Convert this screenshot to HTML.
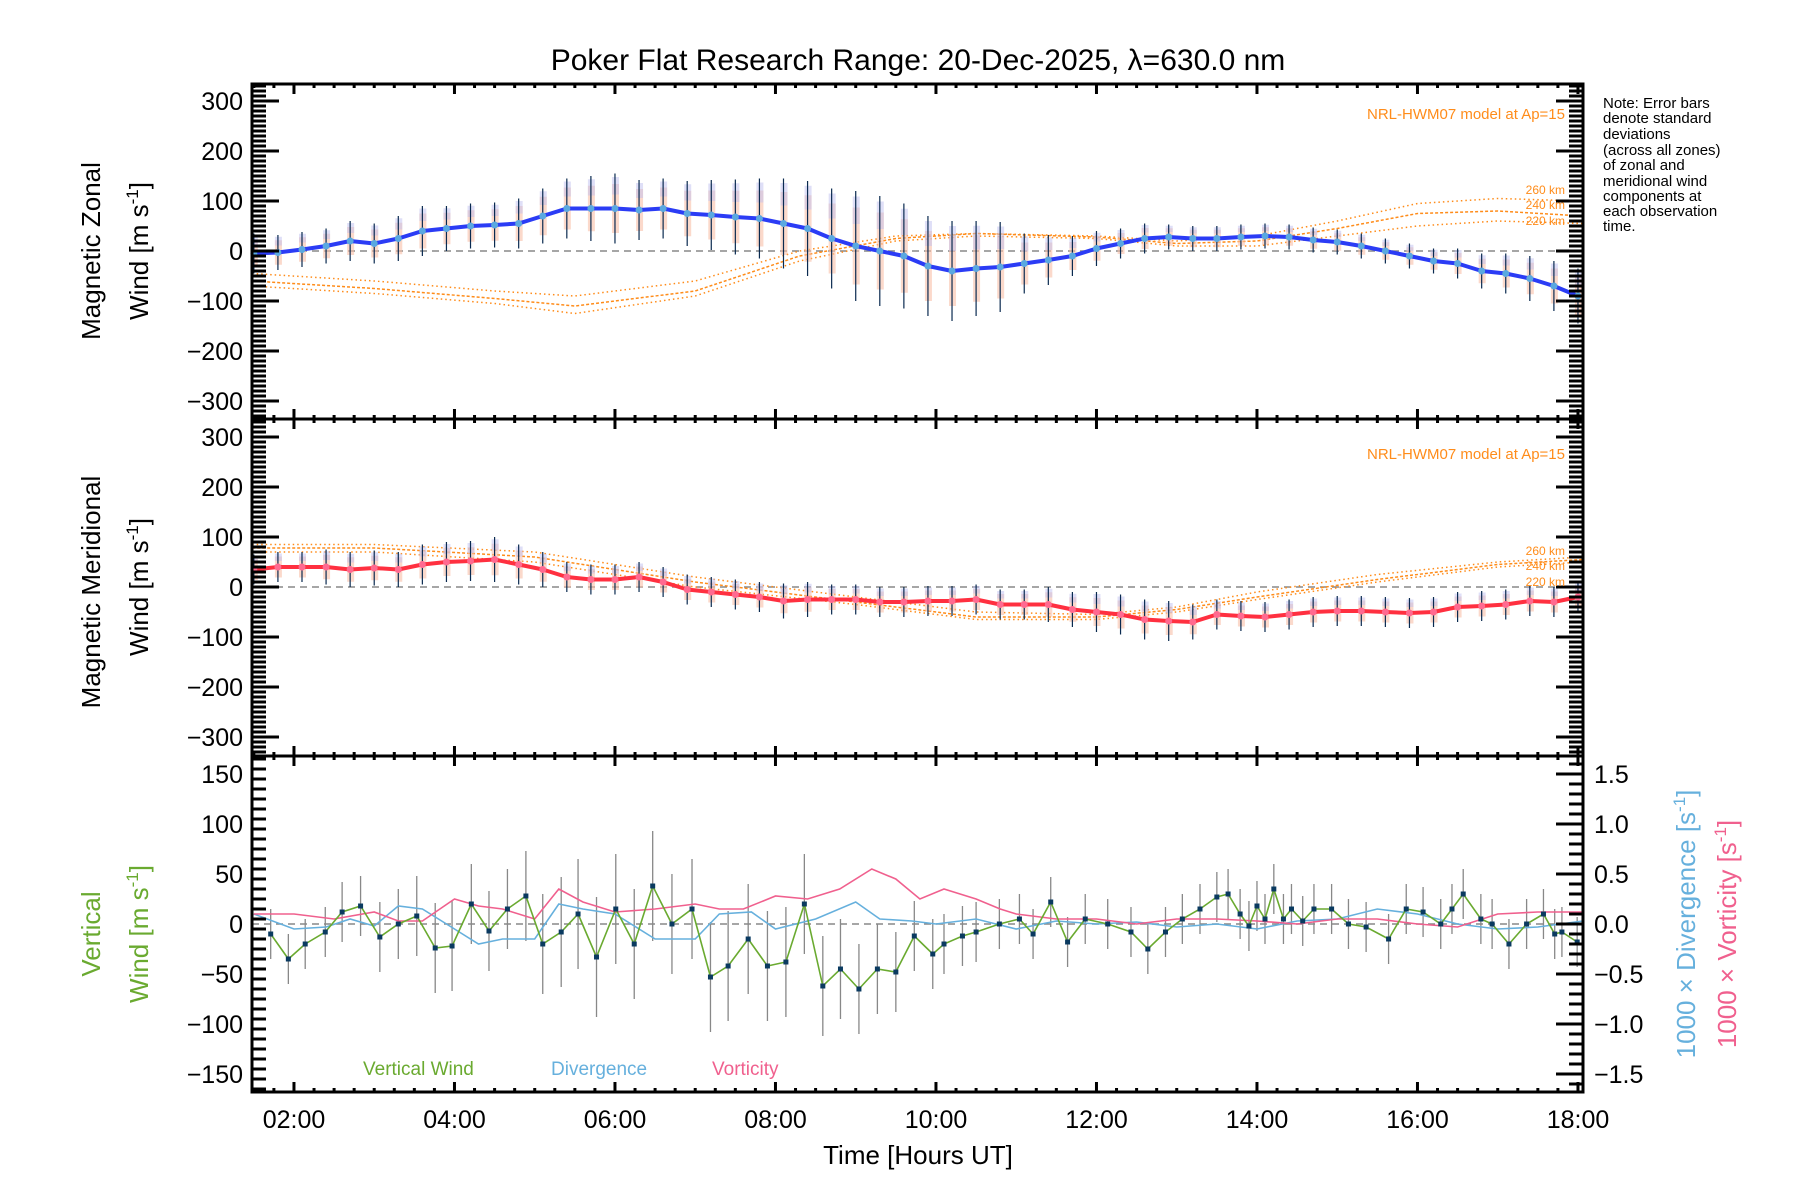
<!DOCTYPE html>
<html><head><meta charset="utf-8"><title>Poker Flat winds</title>
<style>
html,body{margin:0;padding:0;background:#fff;}
svg{display:block;font-family:"Liberation Sans",sans-serif;}
</style></head>
<body>
<svg id="chart" width="1800" height="1200" viewBox="0 0 1800 1200" xmlns="http://www.w3.org/2000/svg">
<rect x="0" y="0" width="1800" height="1200" fill="#fff"/>
<text x="918" y="70" font-size="30" text-anchor="middle" fill="#000">Poker Flat Research Range: 20-Dec-2025, λ=630.0 nm</text>
<g id="marks"></g>
<g id="axes"></g>
<text font-size="15" fill="#000">
<tspan x="1603" y="108">Note: Error bars</tspan><tspan x="1603" y="123">denote standard</tspan><tspan x="1603" y="139">deviations</tspan><tspan x="1603" y="155">(across all zones)</tspan><tspan x="1603" y="170">of zonal and</tspan><tspan x="1603" y="186">meridional wind</tspan><tspan x="1603" y="201">components at</tspan><tspan x="1603" y="216">each observation</tspan><tspan x="1603" y="231">time.</tspan></text>
<text font-size="26" fill="#000" text-anchor="middle" transform="translate(100,251) rotate(-90)">Magnetic Zonal</text>
<text font-size="26" fill="#000" text-anchor="middle" transform="translate(148,251) rotate(-90)">Wind [m s<tspan dy="-10" font-size="17">-1</tspan><tspan dy="10">]</tspan></text>
<text font-size="26" fill="#000" text-anchor="middle" transform="translate(100,592) rotate(-90)">Magnetic Meridional</text>
<text font-size="26" fill="#000" text-anchor="middle" transform="translate(148,587) rotate(-90)">Wind [m s<tspan dy="-10" font-size="17">-1</tspan><tspan dy="10">]</tspan></text>
<text font-size="26" fill="#6aaa30" text-anchor="middle" transform="translate(100,934) rotate(-90)">Vertical</text>
<text font-size="26" fill="#6aaa30" text-anchor="middle" transform="translate(148,934) rotate(-90)">Wind [m s<tspan dy="-10" font-size="17">-1</tspan><tspan dy="10">]</tspan></text>
<text font-size="26" fill="#66b0dd" text-anchor="middle" transform="translate(1695,924) rotate(-90)">1000 × Divergence [s<tspan dy="-10" font-size="17">-1</tspan><tspan dy="10">]</tspan></text>
<text font-size="26" fill="#f0608e" text-anchor="middle" transform="translate(1736,934) rotate(-90)">1000 × Vorticity [s<tspan dy="-10" font-size="17">-1</tspan><tspan dy="10">]</tspan></text>
<text x="918" y="1164" font-size="26" text-anchor="middle" fill="#000">Time [Hours UT]</text>
<text x="363" y="1075" font-size="19" fill="#6aaa30">Vertical Wind</text>
<text x="551" y="1075" font-size="19" fill="#66b0dd">Divergence</text>
<text x="712" y="1075" font-size="19" fill="#f0608e">Vorticity</text>
<text x="1565" y="119" font-size="15" text-anchor="end" fill="#ff8c1a">NRL-HWM07 model at Ap=15</text>
<text x="1565" y="459" font-size="15" text-anchor="end" fill="#ff8c1a">NRL-HWM07 model at Ap=15</text>
<g font-size="12" fill="#ff8c1a" text-anchor="end">
<text x="1565" y="194">260 km</text>
<text x="1565" y="209">240 km</text>
<text x="1565" y="225">220 km</text>
<text x="1565" y="555">260 km</text>
<text x="1565" y="570">240 km</text>
<text x="1565" y="586">220 km</text>
</g>
</svg>
<script>
// ---- data ----
const obsTimes = [1.5,1.8,2.1,2.4,2.7,3.0,3.3,3.6,3.9,4.2,4.5,4.8,5.1,5.4,5.7,6.0,6.3,6.6,6.9,7.2,7.5,7.8,8.1,8.4,8.7,9.0,9.3,9.6,9.9,10.2,10.5,10.8,11.1,11.4,11.7,12.0,12.3,12.6,12.9,13.2,13.5,13.8,14.1,14.4,14.7,15.0,15.3,15.6,15.9,16.2,16.5,16.8,17.1,17.4,17.7,18.0];
const zonalWind = [-5,-3,3,10,20,15,25,40,45,50,52,55,70,85,85,85,82,85,75,72,68,65,55,45,25,10,0,-10,-30,-40,-35,-32,-25,-18,-10,5,15,25,28,25,25,28,30,28,22,18,10,0,-10,-20,-25,-40,-45,-55,-70,-90];
const zonalErr = [40,35,35,35,40,40,45,50,45,45,45,50,55,60,65,70,60,60,65,70,75,80,90,95,100,110,110,105,100,100,95,90,60,50,40,35,30,30,25,25,25,25,25,25,25,25,25,25,25,25,30,35,40,45,50,55];
const meridWind = [35,40,40,40,35,38,35,45,50,52,55,45,35,20,15,15,20,10,-5,-10,-15,-20,-28,-25,-25,-25,-30,-30,-28,-28,-25,-35,-35,-35,-45,-50,-55,-65,-68,-70,-55,-58,-60,-55,-50,-48,-48,-50,-52,-50,-40,-38,-35,-28,-30,-20];
const meridErr = [30,30,30,35,35,35,35,40,40,40,45,40,35,30,30,30,30,30,30,30,30,30,35,35,30,30,30,30,30,30,30,30,30,35,35,40,40,40,40,35,30,30,30,30,30,30,30,30,30,30,30,30,30,30,30,30];

const modelTimes = [1.48,3,4.5,5.5,7,8.3,9.5,10.5,12,13,14,15,16,17,18.06];
const zonal260 = [-45,-60,-80,-90,-60,0,30,35,30,20,30,60,95,105,100];
const zonal240 = [-60,-75,-95,-110,-80,-10,25,35,28,15,20,45,75,80,70];
const zonal220 = [-70,-85,-105,-125,-90,-20,20,30,25,10,10,30,50,60,55];
const modelTimesM = [1.48,3,5,7,9,10.5,12,13,14,15.5,17,18.06];
const merid260 = [85,85,70,20,-20,-50,-55,-40,-10,25,50,60];
const merid240 = [78,78,60,10,-30,-60,-60,-45,-20,15,45,55];
const merid220 = [70,70,50,0,-35,-65,-65,-50,-25,10,40,50];

const vertTimes = [1.71,1.93,2.14,2.39,2.6,2.83,3.07,3.3,3.53,3.76,3.97,4.21,4.43,4.66,4.89,5.1,5.33,5.54,5.77,6.01,6.24,6.47,6.71,6.96,7.19,7.41,7.66,7.9,8.13,8.36,8.59,8.81,9.04,9.27,9.5,9.73,9.96,10.1,10.33,10.5,10.79,11.04,11.21,11.43,11.64,11.86,12.14,12.43,12.64,12.86,13.07,13.29,13.5,13.64,13.79,13.9,14.0,14.1,14.21,14.33,14.43,14.57,14.71,14.93,15.14,15.36,15.64,15.86,16.07,16.29,16.43,16.57,16.79,16.93,17.14,17.36,17.57,17.71,17.8,17.99];
const vertWind = [-10,-35,-20,-8,12,18,-13,0,8,-24,-22,20,-7,15,28,-20,-8,10,-33,15,-20,38,0,15,-53,-42,-15,-42,-38,20,-62,-45,-65,-45,-48,-12,-30,-20,-12,-8,0,5,-10,22,-18,5,0,-8,-25,-8,5,15,27,30,10,-2,18,5,35,5,15,3,15,15,0,-3,-15,15,12,0,15,30,5,0,-20,0,10,-10,-8,-18];
const vertErr = [25,25,25,25,30,30,35,35,40,45,45,40,40,40,45,50,55,55,60,55,55,55,50,50,55,55,55,55,55,50,50,50,45,45,40,35,35,30,30,30,25,25,25,25,25,25,25,25,25,25,25,25,25,25,25,25,25,25,25,25,25,25,25,25,25,25,25,25,25,25,25,25,25,25,25,25,25,25,25,25];
const divTimes = [1.5,2.0,2.4,2.7,3.0,3.3,3.6,4.0,4.3,4.6,5.0,5.3,5.6,6.0,6.5,7.0,7.3,7.7,8.0,8.5,9.0,9.3,9.7,10.0,10.5,11.0,11.5,12.0,12.5,13.0,13.5,14.0,14.5,15.0,15.5,16.0,16.5,17.0,17.5,18.06];
const divergence = [0.10,-0.05,-0.03,0.05,-0.02,0.18,0.15,-0.05,-0.2,-0.15,-0.15,0.2,0.15,0.1,-0.15,-0.15,0.1,0.12,-0.05,0.05,0.22,0.05,0.03,0.0,0.05,-0.05,0.03,0.0,0.02,-0.03,0.0,-0.05,0.03,0.05,0.15,0.1,0.0,-0.05,-0.03,0.03];
const vortTimes = [1.5,2.0,2.5,3.0,3.3,3.6,4.0,4.3,4.6,5.0,5.3,5.6,6.0,6.5,7.0,7.3,7.6,8.0,8.4,8.8,9.2,9.5,9.8,10.1,10.5,10.8,11.0,11.5,12.0,12.5,13.0,13.5,14.0,14.5,15.0,15.5,16.0,16.5,17.0,17.5,18.06];
const vorticity = [0.1,0.1,0.05,0.12,0.03,0.03,0.25,0.18,0.15,0.05,0.35,0.22,0.12,0.15,0.2,0.15,0.15,0.28,0.25,0.35,0.55,0.45,0.25,0.35,0.25,0.15,0.1,0.05,0.05,0.0,0.05,0.05,0.03,0.0,0.05,0.05,0.0,-0.03,0.1,0.12,0.12];

const xLabels = ["02:00","04:00","06:00","08:00","10:00","12:00","14:00","16:00","18:00"];
const windTicks = [300,200,100,0,-100,-200,-300];
const vertTicks = [150,100,50,0,-50,-100,-150];
const rightTicks = ["1.5","1.0","0.5","0.0","-0.5","-1.0","-1.5"];

// ---- axes ----
const L=252, R=1583, T0=1.477;
function X(t){return L+(t-T0)*80.25;}
const P1={top:84,bot:419,zero:251,k:0.5};
const P2={top:419,bot:756,zero:587,k:0.5};
const P3={top:756,bot:1092,zero:924,k:1.0};
function Y(p,v){return p.zero-v*p.k;}
function YR(v){return P3.zero-v*100;}

const NS="http://www.w3.org/2000/svg";
const marks=document.getElementById('marks');
const axes=document.getElementById('axes');
function mk(tag,attrs,parent){const e=document.createElementNS(NS,tag);for(const k in attrs)e.setAttribute(k,attrs[k]);(parent||marks).appendChild(e);return e;}
function fmt(v){return String(v).replace('-','\u2212');}

function zeroLine(p){
  const e=mk('line',{x1:L,x2:R,y1:Y(p,0),y2:Y(p,0),stroke:'#888','stroke-width':1.5,'stroke-dasharray':'7,5'});
  
  
}
function polyline(ts,vs,yf,attrs,name){
  const pts=ts.map((t,i)=>X(t).toFixed(1)+','+yf(vs[i]).toFixed(1)).join(' ');
  const e=mk('polyline',Object.assign({points:pts,fill:'none'},attrs));
  
  
  return e;
}
function windPanel(p,vals,errs,lineColor,dotColor,models,mt,name){
  zeroLine(p);
  models.forEach((m,j)=>{
    polyline(mt,m,v=>Y(p,v),{stroke:'#ff8c1a','stroke-width':1.5,'stroke-dasharray':j==1?'3,2':'1.5,3'},name+'-model-'+['260','240','220'][j]);
  });
  obsTimes.forEach((t,i)=>{
    const x=X(t),v=vals[i],e=errs[i];
    const b=mk('rect',{x:x-3,y:Y(p,v+e*0.7),width:7,height:e*1.4*p.k,fill:'#f8c0a8',opacity:0.6});
    
    
    const b2=mk('rect',{x:x-3,y:Y(p,v+e*0.9),width:7,height:e*0.5*p.k,fill:'#c0c0f0',opacity:0.5});
    
    
    const eb=mk('line',{x1:x,x2:x,y1:Y(p,v+e),y2:Y(p,v-e),stroke:'#0a2a50','stroke-width':1.2});
    
    
  });
  polyline(obsTimes,vals,v=>Y(p,v),{stroke:lineColor,'stroke-width':4,'stroke-linejoin':'round'},name+'-line');
  obsTimes.forEach((t,i)=>{
    const c=mk('circle',{cx:X(t),cy:Y(p,vals[i]),r:3.5,fill:dotColor});
    
    
  });
}
windPanel(P1,zonalWind,zonalErr,'#2b3cf5','#5aa8e0',[zonal260,zonal240,zonal220],modelTimes,'zonal');
windPanel(P2,meridWind,meridErr,'#ff3040','#ff6a90',[merid260,merid240,merid220],modelTimesM,'meridional');

zeroLine(P3);
vertTimes.forEach((t,i)=>{
  const e=mk('line',{x1:X(t),x2:X(t),y1:Y(P3,vertWind[i]+vertErr[i]),y2:Y(P3,vertWind[i]-vertErr[i]),stroke:'#888','stroke-width':1.3});
  
  
});
polyline(divTimes,divergence,YR,{stroke:'#66b0dd','stroke-width':1.6},'divergence-line');
polyline(vortTimes,vorticity,YR,{stroke:'#f0608e','stroke-width':1.6},'vorticity-line');
polyline(vertTimes,vertWind,v=>Y(P3,v),{stroke:'#6aaa30','stroke-width':1.6},'vertical-wind-line');
vertTimes.forEach((t,i)=>{
  const r=mk('rect',{x:X(t)-2.5,y:Y(P3,vertWind[i])-2.5,width:5,height:5,fill:'#0a3a60'});
  
  
});

function tickLine(x1,y1,x2,y2,w){mk('line',{x1,y1,x2,y2,stroke:'#000','stroke-width':w},axes);}
function text(x,y,s,anchor,name){const e=mk('text',{x,y,'font-size':25,'text-anchor':anchor,fill:'#000'},axes);e.textContent=s;}
[P1,P2,P3].forEach((p,pi)=>{
  const fr=mk('rect',{x:L,y:p.top,width:R-L,height:p.bot-p.top,fill:'none',stroke:'#000','stroke-width':3},axes);
  
  
  for(let t=1.5;t<=18.06;t+=0.25){
    const x=X(t); const major=Math.abs(t-Math.round(t/2)*2)<1e-6;
    const len=major?10:4;
    tickLine(x,p.top,x,p.top+len,3); tickLine(x,p.bot,x,p.bot-len,3);
  }
  const rng=pi<2?330:165, minor=10, majorStep=pi<2?100:50;
  for(let v=-rng;v<=rng;v+=minor){
    const y=Y(p,v); if(y<p.top+1||y>p.bot-1)continue;
    const maj=(v%majorStep===0);
    tickLine(L,y,L+(maj?27:14),y,3);
    if(pi<2) tickLine(R,y,R-(maj?27:14),y,3);
  }
  const ticks=pi<2?windTicks:vertTicks;
  ticks.forEach(v=>text(243,Y(p,v)+9,fmt(v),'end','y-tick-label'));
});
for(let v=-1.6;v<=1.61;v+=0.1){
  const y=YR(v); if(y<P3.top+1||y>P3.bot-1)continue;
  const maj=Math.abs(v*2-Math.round(v*2))<1e-6;
  tickLine(R,y,R-(maj?27:14),y,3);
}
rightTicks.forEach(s=>text(1594,YR(parseFloat(s))+9,fmt(s),'start','right-tick-label'));
xLabels.forEach((s,i)=>text(X(2+2*i),1128,s,'middle','x-tick-label'));
</script>
</body></html>
